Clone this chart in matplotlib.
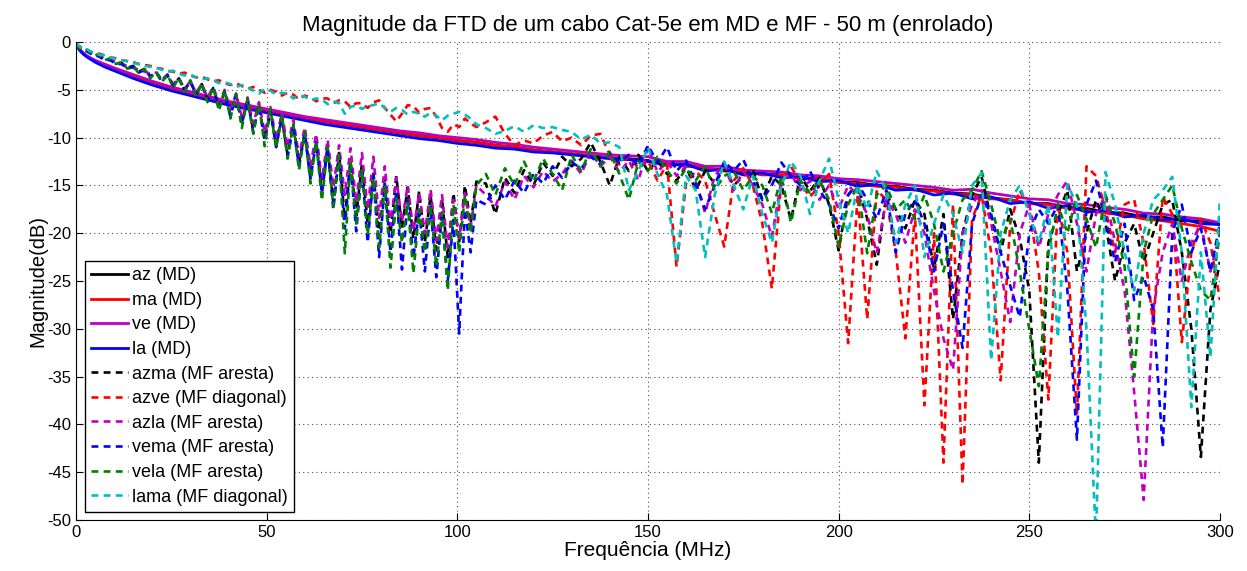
import numpy as np
import matplotlib
matplotlib.use("Agg")
import matplotlib.pyplot as plt

plt.rcParams['font.family'] = ['Liberation Sans', 'DejaVu Sans']
plt.rcParams['axes.unicode_minus'] = False

# ---------- frequency grids (MHz) ---------- #
freq_md = np.concatenate([[0, 0.5, 1, 2, 3, 5, 7.5], np.arange(10, 301, 5)])
freq_mf = np.concatenate([np.arange(0, 106, 1.5), np.arange(107.5, 301, 2.5)])

# ---------- modo diferencial (MD) ---------- #
az = [0, -0.5, -0.8, -1.2, -1.5, -2.0, -2.4,
      -2.8, -3.5, -4.2, -4.8, -5.3, -5.8, -6.3, -6.7, -7.1, -7.5, -7.9, -8.3, -8.6, -8.9,
      -9.2, -9.5, -9.8, -10.0, -10.3, -10.5, -10.8, -11.0, -11.3, -11.5, -11.7, -11.9, -12.1, -12.2,
      -12.4, -12.8, -12.8, -13.3, -13.3, -13.7, -13.8, -13.9, -14.2, -14.3, -14.6, -14.7, -15.0, -15.1,
      -15.4, -15.5, -15.8, -15.9, -16.3, -16.5, -16.9, -16.9, -17.3, -17.4, -17.8, -17.9, -18.3, -18.3,
      -18.7, -18.7, -19.0]
ma = [0, -0.5, -0.8, -1.2, -1.5, -2.0, -2.4,
      -2.8, -3.5, -4.2, -4.8, -5.3, -5.8, -6.3, -6.7, -7.1, -7.5, -7.9, -8.3, -8.6, -8.9,
      -9.2, -9.5, -9.8, -10.0, -10.3, -10.5, -10.8, -11.0, -11.3, -11.5, -11.7, -11.9, -12.1, -12.3,
      -12.5, -12.6, -13.0, -13.1, -13.5, -13.5, -13.9, -13.9, -14.3, -14.3, -14.7, -14.8, -15.1, -15.2,
      -15.5, -15.6, -15.9, -16.0, -16.4, -16.5, -16.9, -17.0, -17.4, -17.6, -17.9, -18.1, -18.5, -18.7,
      -19.0, -19.3, -19.8]
ve = [0, -0.5, -0.8, -1.2, -1.5, -1.9, -2.3,
      -2.7, -3.4, -4.1, -4.7, -5.2, -5.7, -6.2, -6.6, -7.0, -7.4, -7.8, -8.1, -8.4, -8.7,
      -9.0, -9.3, -9.5, -9.8, -10.0, -10.2, -10.5, -10.7, -11.0, -11.2, -11.4, -11.6, -11.8, -11.9,
      -12.0, -12.5, -12.5, -13.0, -13.0, -13.4, -13.5, -13.6, -13.9, -14.0, -14.3, -14.4, -14.6, -14.8,
      -15.0, -15.2, -15.5, -15.4, -15.8, -16.1, -16.4, -16.5, -16.9, -17.0, -17.3, -17.5, -17.9, -18.0,
      -18.3, -18.5, -18.9]
la = [0, -0.6, -0.9, -1.3, -1.6, -2.1, -2.6,
      -3.0, -3.8, -4.5, -5.1, -5.6, -6.1, -6.6, -7.0, -7.4, -7.8, -8.2, -8.6, -8.9, -9.2,
      -9.5, -9.8, -10.1, -10.3, -10.6, -10.8, -11.1, -11.2, -11.5, -11.6, -11.8, -12.0, -12.2, -12.3,
      -12.5, -12.9, -12.8, -13.5, -13.3, -13.9, -13.7, -14.2, -14.1, -14.6, -14.5, -15.1, -14.9, -15.5,
      -15.4, -16.0, -15.8, -16.4, -16.2, -16.9, -16.7, -17.4, -17.1, -17.8, -17.6, -18.3, -18.1, -18.6,
      -18.5, -19.0, -19.1]

# ---------- modo fantasma (MF) ---------- #
azma = [-0.2, -0.8, -0.9, -1.3, -1.4, -1.8, -1.8, -2.2, -2.2, -2.7, -2.5, -3.1, -2.8, -3.6, -3.1, -4.0,
        -3.4, -4.5, -3.8, -5.0, -4.1, -5.4, -4.4, -6.0, -4.8, -6.8, -5.2, -7.6, -5.6, -8.4, -6.1, -9.2,
        -6.6, -10.2, -7.2, -10.8, -7.9, -11.8, -8.7, -12.6, -9.5, -14.0, -10.3, -15.5, -11.0, -16.8,
        -11.6, -18.5, -12.4, -18.2, -12.7, -19.0, -13.6, -20.4, -14.2, -20.0, -14.0, -19.5, -15.2, -20.6,
        -15.6, -21.0, -16.0, -21.8, -16.4, -22.5, -15.8, -21.0, -15.0, -19.0, -14.6,
        -14.8, -18.0, -14.2, -15.8, -13.4, -15.0, -12.6, -14.0, -12.0, -13.0, -12.2, -10.5, -12.5, -15.0,
        -12.0, -13.5, -11.8, -13.5, -12.4, -13.8, -14.5, -13.0, -15.5, -13.5, -14.8, -13.2, -15.0, -14.0,
        -13.3, -16.5, -14.0, -15.0, -18.6, -14.0, -15.6, -14.2, -17.0, -21.8, -16.0, -14.8, -18.5, -23.3,
        -16.0, -17.5, -19.5, -16.5, -18.0, -23.7, -18.0, -29.0, -20.0, -16.0, -14.1, -18.5, -22.0, -17.5,
        -20.5, -26.0, -44.0, -21.0, -18.0, -15.5, -24.0, -20.0, -16.5, -19.0, -25.0, -21.0, -19.0, -23.0,
        -20.0, -17.0, -16.5, -22.0, -30.0, -43.4, -28.0, -23.0]
azve = [-0.2, -0.6, -0.9, -1.1, -1.2, -1.4, -1.6, -1.7, -1.9, -2.0, -2.1, -2.3, -2.4, -2.5, -2.7, -2.8,
        -3.0, -3.1, -3.3, -3.2, -3.5, -3.7, -3.6, -3.9, -4.1, -4.0, -4.3, -4.5, -4.3, -4.6, -4.9, -4.7,
        -5.0, -5.3, -5.0, -5.2, -5.6, -5.3, -5.5, -6.0, -5.6, -5.8, -6.2, -5.9, -5.9, -6.4, -6.1, -6.2,
        -6.8, -6.4, -6.4, -6.9, -6.3, -6.1, -6.9, -7.6, -8.3, -7.5, -6.6, -6.7, -7.4, -7.0, -6.9, -7.8,
        -9.0, -9.4, -8.6, -8.9, -8.0, -8.5, -8.9,
        -8.4, -7.8, -9.6, -10.8, -10.3, -10.6, -9.8, -9.4, -10.4, -10.0, -10.8, -9.8, -9.6, -11.8, -12.8,
        -12.0, -13.2, -12.4, -14.5, -12.8, -23.5, -14.8, -13.5, -14.5, -18.0, -21.4, -14.5, -13.2, -15.0,
        -19.0, -25.8, -14.5, -13.0, -14.8, -16.2, -15.0, -13.8, -20.0, -31.5, -16.0, -29.0, -15.5, -16.5,
        -22.0, -31.0, -18.0, -38.0, -20.0, -44.0, -17.0, -46.3, -18.5, -16.0, -22.0, -35.4, -19.0, -15.5,
        -17.5, -24.0, -37.4, -17.0, -22.0, -39.0, -13.0, -14.0, -17.5, -22.0, -17.0, -16.5, -21.0, -29.5,
        -16.2, -18.0, -31.4, -22.0, -18.5, -21.0, -27.0]
azla = [-0.2, -0.7, -0.9, -1.2, -1.5, -1.7, -1.9, -2.1, -2.3, -2.5, -2.7, -2.9, -3.1, -3.3, -3.2, -3.9,
        -3.5, -4.4, -3.8, -4.9, -4.1, -5.3, -4.4, -5.8, -4.7, -6.4, -5.0, -7.1, -5.4, -7.8, -5.8, -8.6,
        -6.3, -9.5, -6.8, -10.2, -7.4, -11.0, -8.1, -12.0, -8.9, -13.0, -9.6, -14.4, -10.2, -15.2,
        -10.8, -16.0, -11.1, -16.8, -11.6, -17.5, -12.0, -18.4, -13.0, -19.2, -14.2, -18.8, -15.0, -19.8,
        -15.8, -20.0, -15.4, -20.8, -16.0, -21.5, -16.5, -20.5, -15.8, -19.4, -15.0,
        -16.0, -17.2, -14.6, -16.5, -14.0, -15.2, -13.5, -14.6, -13.8, -12.4, -13.8, -11.5, -13.0, -12.0,
        -13.6, -12.4, -14.5, -11.0, -13.6, -12.5, -14.0, -13.0, -14.5, -17.9, -14.0, -12.8, -15.5, -13.5,
        -15.0, -17.0, -20.4, -14.5, -13.8, -15.5, -14.5, -16.5, -15.0, -17.5, -15.0, -16.0, -18.0, -22.1,
        -16.5, -18.0, -21.0, -17.5, -20.0, -26.0, -31.0, -34.3, -20.0, -17.0, -15.5, -19.0, -24.0, -29.3,
        -20.0, -17.0, -21.5, -18.0, -16.0, -14.5, -19.0, -24.0, -18.0, -16.0, -21.0, -26.0, -36.6, -47.9,
        -28.0, -22.0, -19.0, -25.0, -21.0, -19.0, -24.0, -20.0]
vema = [-0.3, -0.9, -1.0, -1.4, -1.5, -1.9, -1.9, -2.3, -2.3, -2.8, -2.6, -3.2, -2.9, -3.6, -3.2, -4.1,
        -3.5, -4.6, -3.9, -5.0, -4.2, -5.5, -4.5, -6.1, -4.9, -6.9, -5.2, -7.8, -5.6, -8.6, -6.0, -9.4,
        -6.6, -10.4, -7.2, -11.0, -7.9, -12.0, -8.8, -13.0, -9.6, -14.3, -10.4, -15.8, -11.1, -17.5,
        -11.8, -19.5, -12.6, -19.8, -13.2, -21.0, -14.0, -22.5, -14.8, -22.0, -15.6, -23.8, -16.6, -22.6,
        -17.4, -24.0, -17.2, -24.6, -18.0, -25.0, -18.6, -30.5, -17.5, -22.0, -16.5,
        -17.0, -15.0, -16.5, -14.5, -15.8, -13.8, -14.8, -13.0, -14.2, -12.6, -13.2, -12.0, -12.8, -11.6,
        -12.6, -11.8, -13.0, -10.8, -12.6, -11.0, -13.5, -12.4, -14.8, -17.5, -15.0, -12.5, -13.5, -12.3,
        -14.5, -16.5, -15.0, -12.6, -14.0, -15.0, -13.5, -15.5, -17.0, -19.5, -16.0, -14.8, -16.5, -18.5,
        -15.5, -22.0, -18.0, -16.5, -19.0, -24.0, -19.0, -26.0, -32.0, -19.0, -16.0, -18.0, -22.0, -25.5,
        -28.8, -20.0, -17.5, -19.0, -17.0, -26.0, -41.6, -17.0, -14.5, -18.5, -23.0, -19.0, -27.0, -24.5,
        -28.0, -42.4, -20.0, -17.0, -22.0, -19.5, -24.0, -19.0]
vela = [-0.3, -0.9, -0.8, -1.4, -1.3, -1.9, -1.7, -2.3, -2.1, -2.8, -2.5, -3.3, -2.8, -3.8, -3.1, -4.2,
        -3.4, -4.8, -3.7, -5.2, -4.0, -5.7, -4.3, -6.3, -4.7, -7.2, -5.0, -8.0, -5.4, -9.0, -5.9, -9.6,
        -6.5, -10.9, -7.0, -11.1, -7.6, -12.2, -8.6, -13.4, -9.4, -14.8, -10.4, -16.6, -11.0, -17.2,
        -11.8, -22.1, -12.6, -19.0, -13.4, -20.2, -14.2, -21.5, -15.0, -23.6, -16.4, -21.0, -16.8, -24.2,
        -17.5, -22.0, -17.0, -23.5, -17.8, -26.0, -17.0, -22.0, -16.0, -20.0, -15.0,
        -13.8, -16.0, -13.2, -15.0, -12.5, -14.6, -12.2, -13.8, -15.5, -11.8, -13.5, -11.2, -13.0, -11.5,
        -13.8, -16.5, -12.5, -13.5, -12.0, -13.4, -14.8, -13.2, -14.5, -13.0, -15.5, -14.0, -13.5, -15.5,
        -14.0, -15.0, -17.9, -14.0, -18.9, -14.5, -15.8, -14.5, -16.5, -21.4, -17.0, -15.0, -22.1, -16.0,
        -15.0, -17.5, -16.5, -18.5, -16.0, -19.0, -24.0, -20.0, -16.5, -15.5, -13.5, -17.0, -21.0, -18.5,
        -24.0, -30.0, -36.0, -22.0, -17.0, -20.0, -16.0, -18.5, -21.5, -16.0, -19.0, -23.5, -35.0, -22.0,
        -18.0, -16.5, -15.0, -19.5, -23.0, -26.0, -27.0, -20.0]
lama = [-0.2, -0.6, -0.8, -1.1, -1.3, -1.4, -1.6, -1.8, -1.9, -2.0, -2.2, -2.3, -2.5, -2.6, -2.7, -2.9,
        -3.1, -3.0, -3.3, -3.5, -3.4, -3.7, -3.9, -3.8, -4.0, -4.3, -4.2, -4.4, -4.7, -4.5, -4.7, -5.1,
        -5.4, -4.9, -5.1, -5.5, -5.3, -5.4, -5.9, -5.6, -5.7, -6.1, -5.9, -6.0, -6.5, -6.2, -6.4, -7.5,
        -6.8, -6.6, -7.0, -6.7, -6.6, -6.4, -6.9, -7.3, -6.9, -7.1, -7.6, -7.3, -7.5, -7.8, -7.4, -7.7,
        -8.2, -7.7, -7.5, -7.3, -7.6, -8.0, -8.6,
        -9.0, -9.6, -9.3, -8.8, -9.4, -8.7, -9.0, -8.9, -9.2, -9.4, -10.2, -9.7, -10.6, -10.5, -11.0,
        -15.5, -13.5, -11.0, -13.8, -16.0, -23.1, -14.0, -15.5, -22.5, -16.0, -12.5, -15.0, -17.5, -14.0,
        -18.0, -21.0, -15.0, -12.5, -14.0, -18.0, -14.5, -12.2, -16.5, -20.0, -15.0, -17.5, -13.5, -15.5,
        -21.0, -17.0, -15.0, -22.5, -19.0, -16.0, -18.0, -22.0, -15.0, -13.7, -33.3, -20.0, -16.5, -15.0,
        -18.0, -21.0, -17.0, -30.9, -14.9, -17.0, -30.0, -52.0, -13.6, -17.0, -22.0, -26.0, -20.0, -16.5,
        -15.5, -14.1, -22.0, -38.2, -22.0, -33.0, -16.5]

md_series = [(az, 'k', 'az (MD)'), (ma, 'r', 'ma (MD)'),
             (ve, (0.75, 0, 0.75), 've (MD)'), (la, 'b', 'la (MD)')]
mf_series = [(azma, 'k', 'azma (MF aresta)'), (azve, 'r', 'azve (MF diagonal)'),
             (azla, (0.75, 0, 0.75), 'azla (MF aresta)'), (vema, 'b', 'vema (MF aresta)'),
             (vela, (0, 0.5, 0), 'vela (MF aresta)'), (lama, (0, 0.75, 0.75), 'lama (MF diagonal)')]

fig = plt.figure(figsize=(12.47, 5.71), dpi=100)
ax = fig.add_axes([0.0609, 0.0893, 0.9174, 0.8371])

for y, c, lab in md_series:
    ax.plot(freq_md, y, color=c, lw=2.0, label=lab)
for y, c, lab in mf_series:
    ax.plot(freq_mf, y, color=c, lw=1.9, linestyle=(0, (2.6, 2.0)), label=lab)

ax.set_xlim(0, 300)
ax.set_ylim(-50, 0)
ax.set_xticks(np.arange(0, 301, 50))
ax.set_yticks(np.arange(-50, 1, 5))
ax.grid(True, color='0.3', linestyle=(0, (1, 3)), lw=0.8)
ax.tick_params(direction='in', length=5, labelsize=12)
ax.spines['top'].set_visible(False)
ax.spines['right'].set_visible(False)

ax.set_title('Magnitude da FTD de um cabo Cat-5e em MD e MF - 50 m (enrolado)', fontsize=16, pad=8)
ax.set_xlabel('Frequência (MHz)', fontsize=15, labelpad=1)
ax.set_ylabel('Magnitude(dB)', fontsize=14.5, labelpad=0)

leg = ax.legend(loc='lower left', bbox_to_anchor=(0.008, 0.017), borderaxespad=0,
                fontsize=13, handlelength=2.0, handletextpad=0.25, labelspacing=0.42,
                borderpad=0.35, fancybox=False, framealpha=1)
leg.get_frame().set_edgecolor('k')
leg.get_frame().set_linewidth(1.0)

fig.savefig('out.png', dpi=100)
